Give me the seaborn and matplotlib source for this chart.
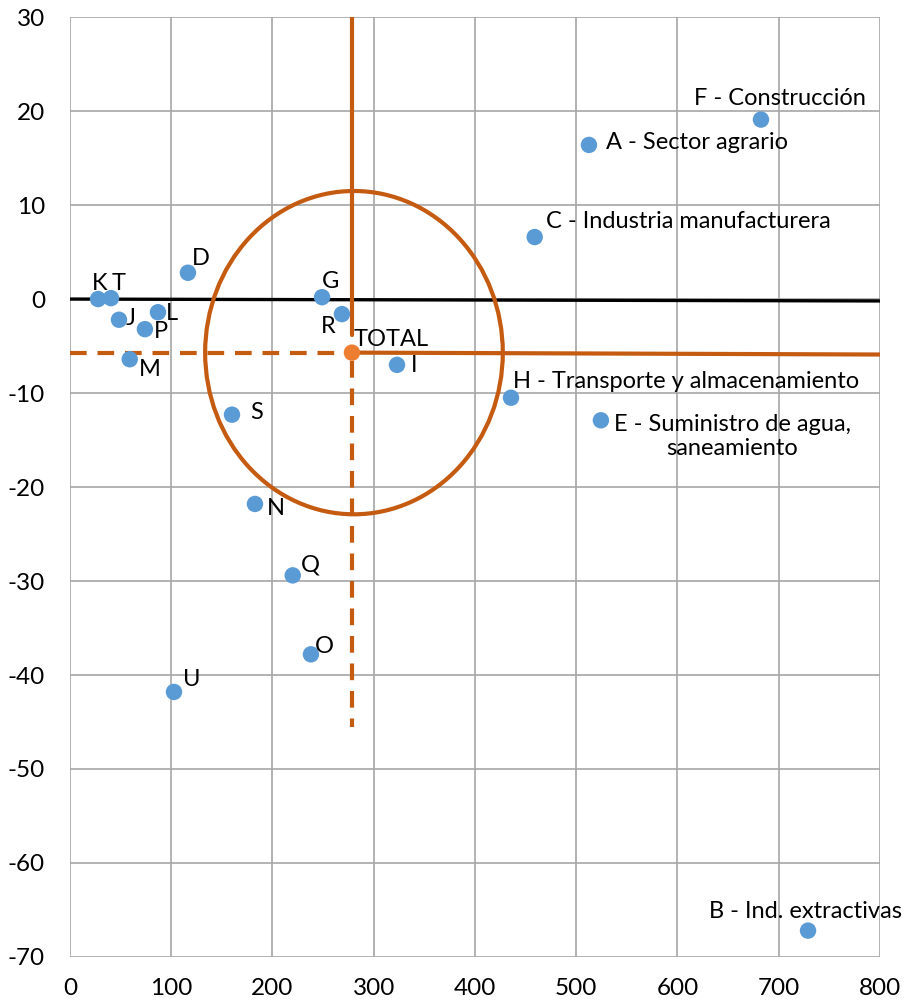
import pandas as pd
import seaborn as sns
import matplotlib.pyplot as plt
from matplotlib.patches import Ellipse

# Sector points (x, y)
names = ['K', 'T', 'J', 'L', 'P', 'M', 'D', 'G', 'R', 'I', 'S', 'N', 'Q', 'O', 'U',
         'H - Transporte y almacenamiento', 'E - Suministro de agua,\nsaneamiento',
         'C - Industria manufacturera', 'A - Sector agrario', 'F - Construcción',
         'B - Ind. extractivas']
x_vals = [27.7, 40.5, 48.4, 86.9, 74.0, 59.0, 116.5, 249.0, 268.6, 323.0, 160.0, 182.7,
          220.0, 238.0, 102.7, 435.6, 524.4, 459.0, 512.6, 682.5, 729.0]
y_vals = [0.0, 0.1, -2.2, -1.4, -3.2, -6.4, 2.8, 0.2, -1.6, -7.0, -12.3, -21.8,
          -29.4, -37.8, -41.8, -10.5, -12.9, 6.6, 16.4, 19.1, -67.2]

total_x = 278.5
total_y = -5.7

# reference lines
zero_line_x = [0, 800]
zero_line_y = [0.0, -0.2]
vline_solid_y = [30, -3.8]
hline_solid_x = [283, 800]
hline_solid_y = [-5.7, -5.9]
hline_dash_x = [0, 272]
vline_dash_y = [-6.6, -45.5]
ellipse_center = (280.5, -5.7)
ellipse_w = 294
ellipse_h = 34.4

x_ticks = list(range(0, 801, 100))
y_ticks = list(range(-70, 31, 10))

# label placement: (dx px, dy px, ha)
label_pos = [(2, 16, 'center'), (8, 15, 'center'), (7, 1, 'left'), (8, -1, 'left'),
             (9, -2, 'left'), (9, -10, 'left'), (4, 14, 'left'), (0, 16, 'left'),
             (-6, -12, 'right'), (14, -1, 'left'), (18, 2, 'left'), (12, -5, 'left'),
             (8, 10, 'left'), (4, 8, 'left'), (9, 12, 'left'), (2, 16, 'left'),
             (13, -16, 'left'), (11, 16, 'left'), (17, 2, 'left'), (19, 21, 'center'),
             (-3, 19, 'center')]

df = pd.DataFrame({'name': names, 'x': x_vals, 'y': y_vals})

sns.set_theme(style='whitegrid')
plt.rcParams['font.family'] = ['Lato', 'DejaVu Sans']
plt.rcParams['axes.unicode_minus'] = False

fig = plt.figure(figsize=(9.09, 10.07), dpi=100)
ax = fig.add_axes([0.077, 0.0497, 0.891, 0.9333])

orange = '#C55A11'
lw_o = 3.0

ax.plot(zero_line_x, zero_line_y, color='black', lw=2.4, zorder=2)
ax.plot([total_x, total_x], vline_solid_y, color=orange, lw=lw_o, zorder=2)
ax.plot(hline_solid_x, hline_solid_y, color=orange, lw=lw_o, zorder=2)
ax.plot(hline_dash_x, [total_y, total_y], color=orange, lw=lw_o, ls=(0, (4, 2.6)), zorder=2)
ax.plot([total_x, total_x], vline_dash_y, color=orange, lw=lw_o, ls=(0, (4, 2.6)), zorder=2)
ax.add_patch(Ellipse(ellipse_center, ellipse_w, ellipse_h, fill=False,
                     edgecolor=orange, lw=lw_o, zorder=2))

sns.scatterplot(data=df, x='x', y='y', color='#5B9BD5', s=140, edgecolor='none',
                ax=ax, zorder=3)
ax.scatter([total_x], [total_y], color='#ED7D31', s=140, edgecolor='none', zorder=4)

for nm, xv, yv, (dx, dy, ha) in zip(names, x_vals, y_vals, label_pos):
    ax.annotate(nm, (xv, yv), xytext=(dx, dy), textcoords='offset pixels',
                ha=ha, va='center', multialignment='center', fontsize=17,
                color='black', zorder=5)
ax.annotate('TOTAL', (total_x, total_y), xytext=(2, 13), textcoords='offset pixels',
            ha='left', va='center', fontsize=17, color='black', zorder=5)

ax.set_xlim(0, 800)
ax.set_ylim(-70, 30)
ax.set_xticks(x_ticks)
ax.set_yticks(y_ticks)
ax.set_xlabel('')
ax.set_ylabel('')
ax.grid(True, color='#A6A6A6', lw=1.2)
for side in ax.spines.values():
    side.set_visible(False)
ax.tick_params(axis='both', length=0, labelsize=17.5, colors='black')
ax.tick_params(axis='y', pad=18)
ax.tick_params(axis='x', pad=15)

fig.savefig('out.png', dpi=100)
